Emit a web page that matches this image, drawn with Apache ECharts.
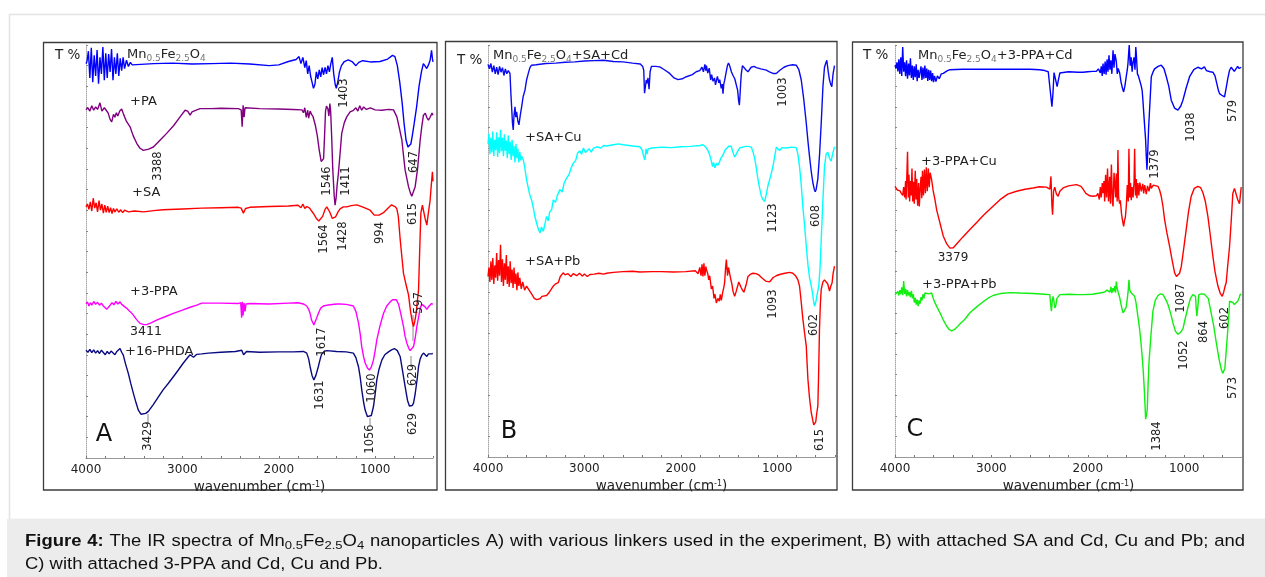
<!DOCTYPE html>
<html>
<head>
<meta charset="utf-8">
<script src="https://cdn.jsdelivr.net/npm/echarts@6/dist/echarts.min.js"></script>
<style>
html, body { margin: 0; padding: 0; background: #fff; }
#chart { width: 1265px; height: 577px; }
</style>
</head>
<body>
<div id="chart"></div>
<script>
// IR spectra, [wavenumber cm-1, T% (offset per curve)]
const A_MnFe = [[4000,95.5],[3990,96],[3975,98.5],[3960,92],[3945,99.3],[3930,91],[3915,97.5],[3900,92.5],[3885,98.8],[3870,90.6],[3855,97],[3840,93],[3825,99.5],[3810,91.5],[3795,98],[3780,92],[3765,97.8],[3750,93.5],[3735,99],[3720,91.5],[3705,97],[3690,93],[3675,98],[3660,92.5],[3645,96.8],[3630,93.8],[3615,97],[3600,94.3],[3580,96.3],[3560,94.8],[3540,95.8],[3520,95.2],[3500,95.6],[3300,95.5],[3100,95.6],[2900,95.4],[2700,95.5],[2500,95.6],[2300,95.4],[2100,95.0],[2000,95.2],[1900,96],[1820,96.5],[1790,97.2],[1770,95.5],[1750,97],[1730,94.5],[1715,96.2],[1700,93],[1685,95],[1670,92.5],[1655,91],[1640,89.5],[1625,90.5],[1610,93.5],[1595,91.8],[1580,94],[1565,92.3],[1550,94.5],[1535,92.8],[1520,94.6],[1505,93],[1490,95],[1475,93.5],[1460,95.5],[1445,97],[1430,93],[1415,90.5],[1403,89.5],[1390,90.8],[1370,93.5],[1350,95],[1320,96],[1280,96.4],[1240,96],[1200,95],[1185,94.7],[1170,95.8],[1130,96.2],[1050,95.9],[950,96],[870,96.6],[820,97.5],[795,97.2],[770,95],[745,91],[720,86],[700,81],[680,77],[660,75.3],[647,75],[630,76],[615,78],[595,81],[570,85],[545,90],[520,93.5],[500,95.5],[485,95],[465,94.3],[445,95.3],[430,96.3],[415,98.7],[405,96.5],[400,95.9]];
const A_PA = [[4000,84.3],[3980,84.8],[3960,84],[3940,85.3],[3920,84.2],[3900,85],[3880,84.4],[3855,86],[3835,84],[3810,84.8],[3790,84.2],[3770,83.5],[3750,82],[3733,81.4],[3715,83.2],[3700,82.5],[3685,83.6],[3670,82.8],[3650,84],[3630,84.5],[3610,83.2],[3580,81.5],[3543,80.2],[3510,78],[3474,76.2],[3440,75],[3405,74.5],[3350,74.8],[3301,75.3],[3230,77],[3163,78.6],[3090,80.5],[3024,82.6],[2972,84.2],[2945,84],[2920,83],[2900,83.8],[2886,83.6],[2850,84.3],[2816,84.6],[2700,84.6],[2600,84.7],[2420,84.6],[2390,84.3],[2380,80.2],[2370,85.4],[2360,82.5],[2350,84.8],[2330,84.5],[2200,84.6],[2000,84.5],[1850,84.4],[1760,84.3],[1744,83.6],[1730,84.8],[1715,82.5],[1700,84.2],[1690,82.3],[1675,84],[1660,83.2],[1645,82.7],[1620,80.5],[1600,78],[1580,74.5],[1560,71.8],[1546,71.4],[1535,72.5],[1525,78],[1515,84],[1505,85.2],[1490,84.5],[1480,82.8],[1470,85.8],[1462,84],[1450,77],[1440,70],[1425,63.5],[1416,61.2],[1405,63],[1395,66],[1381,69],[1365,73.5],[1347,78.6],[1320,81.2],[1295,82.6],[1260,83.8],[1226,84.2],[1200,84.8],[1180,84],[1160,85.3],[1140,84.2],[1120,85],[1090,84.4],[1050,84.8],[1000,84.3],[930,84.2],[860,84.4],[810,84.3],[775,82.6],[750,80],[723,77],[705,73],[689,69.7],[670,67.5],[654,65.7],[635,64.2],[620,63.4],[605,63.8],[585,65.7],[560,70],[533,77],[515,80.5],[499,83],[480,83.5],[465,82.5],[447,81.8],[430,82.5],[410,83.5],[400,83]];
const A_SA = [[4000,60.8],[3985,61.5],[3970,60.2],[3955,62],[3940,59.8],[3925,62.9],[3910,60.5],[3895,61.8],[3880,59.6],[3865,62.3],[3850,60],[3835,61.5],[3820,59.3],[3805,61.2],[3790,59.5],[3775,61],[3760,59.4],[3745,60.6],[3730,59.2],[3715,60.4],[3700,59.6],[3680,60.3],[3660,59.5],[3640,60.1],[3620,59.4],[3600,60],[3560,59.6],[3500,59.8],[3400,59.6],[3300,59.9],[3200,60.1],[3000,60.3],[2800,60.5],[2600,60.6],[2420,60.7],[2390,60.5],[2367,59.3],[2345,60.4],[2300,60.7],[2100,60.9],[1900,61],[1800,61.2],[1770,60.6],[1750,61.5],[1730,60.4],[1710,60.9],[1680,60.5],[1660,59.8],[1640,59.2],[1610,58],[1585,57.4],[1570,57.2],[1545,58.5],[1520,60.2],[1502,60.8],[1470,59.5],[1445,58],[1428,57.6],[1410,58.4],[1385,59.6],[1364,60.3],[1330,60.8],[1295,60.8],[1250,61.1],[1190,61.3],[1120,60.7],[1052,60],[1010,58.8],[994,58.4],[960,58.8],[914,59.4],[870,60.4],[830,61.3],[810,61.5],[790,60.8],[775,60.3],[760,58.5],[740,52.8],[720,48],[706,44.7],[680,42],[654,39.5],[630,35],[615,33],[602,31.8],[588,33.2],[575,35],[560,38.5],[550,40.7],[540,48.7],[526,59.3],[510,61.2],[499,60.8],[482,58],[464,56.4],[450,59],[430,62.4],[418,66],[406,69.3],[400,67]];
const A_3PPA = [[4000,37.3],[3985,37.8],[3970,36.8],[3955,37.6],[3940,37],[3920,37.9],[3900,37.2],[3880,37.7],[3860,37],[3840,37.5],[3820,36.8],[3800,36.4],[3785,36],[3768,36],[3750,37],[3730,37.6],[3710,37.1],[3690,37.9],[3670,37.3],[3647,37.8],[3630,37.2],[3613,37.1],[3580,36.3],[3545,35.5],[3509,34.6],[3475,33.5],[3440,32.6],[3400,32.3],[3370,32.3],[3320,32.8],[3267,33.4],[3180,34.2],[3094,35],[3000,35.8],[2920,36.5],[2850,37],[2800,37.5],[2600,37.5],[2420,37.4],[2395,37.6],[2385,34],[2378,37.8],[2370,34.5],[2360,37.5],[2350,35.5],[2340,37.3],[2300,37.4],[2100,37.3],[1900,37.5],[1800,37.6],[1744,37.3],[1725,37.6],[1710,36.8],[1690,36],[1675,35],[1660,33.4],[1645,32.7],[1636,32.2],[1620,32.6],[1605,34],[1590,35],[1565,36.3],[1537,36.8],[1500,37],[1468,37.1],[1400,37.3],[1364,37.3],[1300,37.2],[1226,36.8],[1200,35.5],[1173,32.7],[1155,30],[1139,26.9],[1120,24.5],[1104,23],[1080,21.8],[1060,21.3],[1040,22],[1018,23.7],[1000,26],[983,28.6],[950,32],[914,35],[880,36.8],[844,37.8],[820,38.3],[800,38.6],[780,38.3],[758,37.3],[735,35],[706,31.8],[690,29.5],[671,27.8],[650,26.5],[637,26],[620,26.2],[602,27],[585,29],[568,31.8],[550,34],[533,36.3],[515,37.2],[499,37.2],[482,36.6],[464,36],[447,36.6],[430,37],[415,37.4],[402,37.2]];
const A_16PHDA = [[4000,26.1],[3980,25.6],[3960,26.3],[3940,25.5],[3920,26.2],[3900,25.4],[3880,26],[3860,25.3],[3840,26.1],[3820,25.7],[3800,25],[3780,25.8],[3760,25.2],[3740,25.9],[3720,25.5],[3700,25],[3680,25.8],[3660,26.2],[3647,26.5],[3630,25.6],[3613,24.9],[3590,22.8],[3561,20.5],[3535,18],[3509,15.7],[3480,13.3],[3457,11.6],[3430,10.6],[3413,10.4],[3380,10.8],[3353,11.3],[3300,13],[3249,14.8],[3200,16.5],[3145,18.1],[3090,19.8],[3042,21.3],[2990,23],[2938,24.5],[2920,25],[2903,25.3],[2885,24.4],[2868,24.2],[2850,25.1],[2834,24.8],[2800,25.2],[2730,25.4],[2600,25.6],[2450,25.8],[2384,26.1],[2365,25],[2350,24.6],[2335,25.8],[2315,25.7],[2200,25.6],[2000,25.7],[1850,25.7],[1744,25.8],[1710,25.4],[1690,24],[1675,22.1],[1655,20],[1636,18.9],[1615,20],[1590,22.1],[1570,24],[1556,25.1],[1530,25.8],[1502,26],[1400,25.8],[1300,25.7],[1226,25.4],[1200,24.3],[1173,22.1],[1155,19.5],[1139,16.5],[1120,13.5],[1104,11.6],[1080,10],[1060,9.6],[1040,10.3],[1018,12.4],[1000,15.5],[983,18.9],[960,21.5],[931,23.7],[900,25],[862,25.7],[830,26.2],[800,26.5],[770,26],[740,24.5],[715,21],[689,17.3],[665,14],[645,12.6],[630,12.3],[615,12.7],[602,13.3],[585,15.5],[565,19],[550,22.1],[533,24],[516,24.9],[499,25.4],[482,25.2],[464,24.6],[447,25.2],[430,25.6],[415,25.2],[402,25.3]];

const B_Cd = [[4000,95.3],[3985,94.2],[3970,95.5],[3955,93.4],[3940,95],[3925,93],[3910,94.6],[3895,92.8],[3880,94.8],[3865,93.4],[3850,94.5],[3835,92.6],[3820,94.2],[3805,93],[3790,93.8],[3772,93.1],[3762,88],[3755,85],[3746,81],[3738,79.4],[3730,83],[3720,85],[3712,82.5],[3703,83.8],[3690,81.5],[3679,80.6],[3665,83],[3651,85],[3635,87.5],[3617,89],[3600,91.5],[3582,93.1],[3565,94.5],[3548,95.1],[3500,95.2],[3400,95.5],[3300,95.6],[3200,95.8],[3100,95.9],[3000,96.1],[2900,96.2],[2800,96.3],[2700,96],[2600,95.9],[2500,95.6],[2420,95.4],[2395,94.8],[2384,93.8],[2376,88.3],[2367,88.3],[2358,91.5],[2350,90.7],[2340,92],[2329,89.3],[2318,93.5],[2305,94.8],[2260,94.8],[2218,94.7],[2170,94],[2115,93.1],[2070,92],[2028,91.6],[1985,91.8],[1942,92.3],[1880,92.8],[1840,93.5],[1803,93.8],[1780,94.6],[1765,93.5],[1750,95.3],[1740,93.8],[1734,95],[1720,93.2],[1705,94.4],[1690,91.5],[1680,92.8],[1665,91.2],[1650,92],[1640,90.3],[1631,90.7],[1620,92.4],[1605,90.8],[1596,91.6],[1580,89.5],[1570,90.5],[1562,88.2],[1554,90.5],[1545,91.4],[1530,93.3],[1515,95.1],[1505,95.6],[1493,95],[1475,93.5],[1458,92.6],[1440,91.8],[1424,91.4],[1410,89],[1400,86.5],[1392,85.4],[1385,88],[1378,91],[1372,93],[1360,95],[1348,95.1],[1325,94],[1303,93.5],[1270,94.6],[1240,94.8],[1216,94.5],[1170,94.2],[1113,93.9],[1080,93.5],[1044,93.1],[1010,93.1],[975,93.8],[930,94.6],[889,95],[840,95.2],[802,95.1],[775,94],[750,91.5],[725,87],[698,81],[680,76.5],[664,72.9],[645,69],[629,66.5],[615,65],[605,64.4],[595,65],[578,67.5],[560,73.5],[543,81],[525,90],[509,94.6],[497,95.5],[485,96.3],[470,93.5],[457,91.5],[445,90.5],[433,89.9],[420,93],[405,95]];
const B_Cu = [[4000,76],[3990,78.5],[3980,73.5],[3970,77.5],[3960,74],[3950,79],[3940,73],[3930,77],[3920,74.5],[3910,78.8],[3900,72.8],[3890,77.6],[3880,73.8],[3870,79.4],[3860,74.2],[3850,77.5],[3840,73],[3830,78.3],[3820,74.3],[3810,76.8],[3800,72.5],[3790,78],[3780,73.5],[3770,76.5],[3760,72.1],[3750,77],[3740,73],[3730,75.5],[3720,71.5],[3710,76],[3700,72.5],[3690,74.8],[3680,71.5],[3670,74],[3660,72],[3650,73],[3634,72.1],[3620,70.5],[3600,67.3],[3580,65],[3565,63.5],[3548,62.4],[3530,60.5],[3515,58.5],[3496,56.8],[3480,55.5],[3461,54.4],[3445,55.8],[3427,54.8],[3410,56.5],[3392,58.4],[3375,57.3],[3360,59.5],[3340,60],[3323,62.4],[3300,61.8],[3280,63.5],[3254,64.9],[3230,64.3],[3210,66.5],[3185,67.7],[3160,68.5],[3140,70],[3116,71.3],[3090,72],[3070,73.8],[3047,74.3],[3030,73.5],[3010,75],[2990,73.9],[2978,74.1],[2950,74.8],[2930,74],[2908,74.9],[2870,75.3],[2830,75],[2800,75.6],[2770,75.5],[2700,75.8],[2650,76],[2597,75.8],[2500,75.5],[2425,75.3],[2400,74.5],[2385,73],[2373,72.1],[2360,74.8],[2350,73.5],[2339,74.8],[2300,75],[2200,75.2],[2100,75.1],[2000,75.3],[1900,75.4],[1800,75.6],[1769,75.8],[1740,75.2],[1720,74.5],[1700,73.3],[1685,72],[1670,70.5],[1660,71.5],[1645,70.2],[1630,71.3],[1614,70.8],[1600,71.5],[1585,72.5],[1562,73.3],[1540,74.5],[1520,75],[1500,75.5],[1476,75.4],[1460,74],[1441,72.8],[1425,73.5],[1407,74.3],[1390,75],[1372,75.3],[1330,75.4],[1300,75.4],[1268,75.2],[1250,74],[1234,72.6],[1215,70],[1199,67.3],[1180,65],[1164,63.3],[1147,62.5],[1130,62],[1115,63.5],[1095,65.9],[1070,68],[1044,70.5],[1025,73],[1009,75.2],[990,74.8],[975,74.4],[950,75.1],[906,75],[850,75.2],[802,75.1],[785,73.5],[768,70.5],[750,66],[733,60.6],[715,56],[698,51.1],[680,46.5],[664,43.5],[650,42],[635,40],[620,37.5],[612,36.6],[600,37.5],[585,39.5],[568,41.5],[555,46],[543,52.8],[526,62],[509,70.5],[492,73.5],[475,74],[457,72.5],[440,71.8],[425,73.5],[405,75.3]];
const B_Pb = [[4000,43.8],[3990,46],[3980,42.5],[3970,47.5],[3960,43],[3950,48.3],[3940,42],[3930,46.5],[3920,43.5],[3910,49.5],[3900,42.8],[3890,47.8],[3880,44],[3870,51.5],[3860,42.5],[3850,48],[3840,41.5],[3830,47],[3820,43],[3810,49],[3800,42],[3790,46.3],[3780,41.3],[3770,47.5],[3760,42.2],[3750,45.5],[3740,41],[3730,46],[3720,42],[3710,44.5],[3700,40.5],[3690,44.8],[3680,41.5],[3670,43.5],[3655,40.8],[3640,42.5],[3620,40.5],[3600,41.5],[3582,41.5],[3560,40],[3540,39.3],[3520,38.5],[3496,38.2],[3480,38.5],[3461,38.4],[3440,39],[3420,38.6],[3392,39.2],[3370,39.8],[3350,40.5],[3323,41.5],[3300,42],[3271,42.3],[3250,43.8],[3220,44.7],[3200,44.2],[3170,44.5],[3140,43.8],[3116,44.5],[3080,44],[3050,44.6],[3020,43.9],[3000,44.4],[2970,43.8],[2943,44.3],[2900,44.4],[2850,44.6],[2800,44.4],[2770,44.6],[2700,44.8],[2600,45],[2500,45.1],[2425,44.9],[2300,45],[2200,45],[2080,44.9],[1950,45],[1850,45.2],[1820,44.5],[1803,46],[1790,44],[1780,46.8],[1770,43.8],[1760,47],[1750,44],[1740,46.2],[1734,45.5],[1720,44.5],[1710,43],[1700,44],[1683,40.8],[1670,41.5],[1655,38.5],[1645,39.5],[1631,37.4],[1615,38.5],[1600,37.8],[1590,39.5],[1579,38],[1565,40],[1555,41],[1545,42.3],[1535,46],[1527,47.9],[1515,44],[1505,46],[1493,44.5],[1480,43],[1470,42],[1458,40.2],[1441,39],[1425,40.2],[1410,41.5],[1398,42.5],[1389,42.6],[1375,41.2],[1360,40.5],[1345,40],[1337,40],[1320,42],[1303,43.8],[1280,44.3],[1251,44.6],[1220,44.5],[1190,44.2],[1160,43.5],[1147,43.2],[1120,42.7],[1100,42.3],[1080,42.5],[1060,43],[1044,43.5],[1010,44],[975,44.3],[920,44.6],[870,44.8],[837,44.6],[810,44],[785,43],[768,41.5],[750,37.5],[733,33.4],[715,30],[698,26.9],[690,23],[681,18.9],[665,14.5],[647,10.9],[630,8.8],[620,7.8],[612,7.6],[600,8.5],[590,10.5],[578,12.4],[570,20],[561,31],[552,37],[543,40.7],[525,42.5],[509,43],[491,43],[475,42],[457,40.3],[443,41.5],[430,42.3],[420,44.5],[405,46.3]];

const C_Cd = [[4000,95.1],[3990,94.3],[3980,95.8],[3970,93.6],[3960,96.5],[3950,93],[3940,97],[3930,92.5],[3920,99.5],[3910,93.5],[3900,95.8],[3890,92.4],[3880,96.3],[3870,91.8],[3860,95.5],[3850,92.6],[3840,96.8],[3830,92],[3820,95],[3810,91.5],[3800,94.8],[3790,92.2],[3780,95.3],[3770,91.2],[3760,94],[3750,92],[3740,92.3],[3730,94.8],[3720,91.5],[3710,94.5],[3700,91.8],[3690,95],[3680,92],[3670,94.3],[3660,91.3],[3650,94],[3640,91.5],[3630,93.8],[3620,91.2],[3610,93.2],[3600,91],[3590,92.5],[3575,91.1],[3560,92.5],[3540,91.8],[3520,93],[3499,93.1],[3460,93.7],[3430,94],[3300,94.1],[3200,94.1],[3085,94.1],[2900,94.1],[2740,94.1],[2600,94.1],[2500,94],[2446,93.8],[2410,93.5],[2394,93.1],[2372,85],[2362,88],[2350,93.3],[2343,93.5],[2328,91],[2318,89.9],[2305,91.5],[2290,93.2],[2274,93.4],[2200,93.5],[2100,93.4],[2049,93.4],[2000,93.5],[1950,93.6],[1911,93.6],[1890,94.2],[1870,93.2],[1860,94.8],[1850,92.5],[1842,95.5],[1830,93],[1820,96],[1810,92.8],[1800,96.5],[1790,93.5],[1780,97.5],[1770,94],[1760,96.3],[1750,93],[1738,98.7],[1728,94.5],[1718,97.8],[1704,96],[1694,93],[1685,94.3],[1669,93.2],[1655,91],[1640,89.5],[1628,88.6],[1615,90],[1600,92.5],[1590,94],[1583,95.5],[1576,98],[1570,100],[1560,95],[1550,97],[1540,93.5],[1531,95.8],[1520,97],[1510,94],[1502,99.5],[1497,98],[1485,93],[1475,92.5],[1462,92.3],[1448,90.3],[1436,89],[1428,86.6],[1415,82],[1400,77],[1393,73],[1386,69.7],[1378,74],[1369,79.8],[1355,86],[1341,92.3],[1320,93.6],[1307,94.2],[1270,94.8],[1238,95.1],[1210,94.3],[1185,92.3],[1160,90],[1134,86.6],[1100,84.7],[1065,84.2],[1035,85.2],[1013,86.6],[980,89.5],[944,92.3],[900,94],[858,94.6],[840,94.5],[820,94.2],[806,94.3],[790,94.7],[770,93.8],[754,93.9],[730,93.5],[702,93.4],[680,92.5],[660,90.5],[645,89],[633,88.2],[610,87.8],[595,87.5],[581,87.4],[565,89.5],[547,91.9],[530,93.8],[512,94.6],[495,94.2],[480,93.6],[461,93.8],[445,94.8],[430,94.3],[408,94.6]];
const C_Cu = [[4000,65.7],[3990,65.3],[3975,64.8],[3960,64.5],[3948,64.6],[3935,64],[3920,63.5],[3910,65.5],[3900,63],[3896,62.7],[3890,67],[3885,62.5],[3880,66],[3870,74.1],[3862,63],[3855,68.5],[3848,62],[3840,67],[3832,63.5],[3824,70],[3816,62],[3808,66.8],[3800,61.5],[3790,69.5],[3782,62.5],[3775,67.5],[3765,61],[3755,66.5],[3748,60.8],[3740,64.5],[3730,68],[3722,62.8],[3715,69.5],[3705,63.5],[3695,69.8],[3685,64],[3675,70.3],[3665,64.5],[3654,70],[3645,65.5],[3635,69],[3620,67.3],[3603,64.5],[3585,62.4],[3568,60],[3551,58.4],[3525,56],[3499,53.6],[3465,51.8],[3430,50.7],[3395,50.8],[3361,51.7],[3300,53.3],[3223,55.2],[3150,57],[3085,58.6],[3000,60.5],[2913,62.4],[2830,63.8],[2740,64.5],[2650,65],[2567,65.3],[2500,65.6],[2429,65.5],[2394,65],[2382,68.1],[2372,61],[2365,58.8],[2355,64.5],[2343,65.5],[2325,63.8],[2308,63.3],[2290,64.5],[2256,65.3],[2200,65.8],[2118,66.1],[2070,65.7],[2049,65],[2020,64],[1980,63.4],[1945,63.3],[1911,63.4],[1895,64],[1880,62.5],[1870,65.5],[1860,63],[1850,66.5],[1842,64],[1832,67],[1825,62],[1815,68.5],[1805,63],[1795,70],[1785,62],[1773,68],[1765,61.5],[1755,71],[1745,62],[1738,60.8],[1728,69],[1720,66.5],[1712,63],[1704,68.8],[1695,62],[1687,74.5],[1680,63],[1670,61.5],[1662,62.3],[1650,59],[1640,57.5],[1628,56],[1618,57.5],[1610,58.2],[1600,61],[1590,66],[1580,62],[1573,74.8],[1565,63],[1556,66.5],[1549,62.3],[1540,65.5],[1530,63],[1520,66.8],[1514,74.8],[1505,63.5],[1497,67.5],[1490,62.8],[1480,66.5],[1470,63.5],[1460,66.6],[1445,64.5],[1430,66.3],[1420,64],[1410,66],[1393,63.8],[1380,65.8],[1365,64.5],[1350,66.5],[1341,65.2],[1320,66],[1300,65.6],[1272,65.7],[1255,64.8],[1238,63.3],[1220,60.8],[1203,57.6],[1180,54.5],[1151,51.1],[1125,47.8],[1099,44.7],[1080,43.8],[1065,43.5],[1048,44.6],[1030,46.2],[1005,50.5],[979,55.2],[955,59.5],[927,63.3],[895,65.2],[858,65.7],[830,65.4],[806,64.2],[780,62],[754,58.4],[730,54],[702,48.7],[680,45],[650,41.5],[625,39.7],[605,39],[590,40],[575,41.5],[564,42.3],[550,46],[529,51.1],[510,58],[495,64],[478,65.2],[461,65.3],[445,62.5],[426,61.5],[415,64],[408,65.5]];
const C_Pb = [[4000,39.4],[3990,39.8],[3980,39],[3970,40.2],[3960,39.2],[3950,40.5],[3940,39.5],[3930,41.2],[3920,39.3],[3910,42.7],[3900,39.6],[3890,40.8],[3880,39],[3870,40.5],[3860,39.2],[3850,40],[3840,38.8],[3830,40.3],[3820,38.5],[3810,39.5],[3800,37.5],[3790,38.6],[3780,37],[3770,38.2],[3760,36.6],[3750,38],[3740,37.2],[3730,38.8],[3720,38],[3710,39.5],[3700,38.5],[3690,39.8],[3672,39.4],[3650,39.6],[3636,40],[3620,39.8],[3603,38.5],[3585,37.4],[3560,36.2],[3534,35],[3500,33.3],[3465,31.8],[3440,31],[3413,30.6],[3380,31],[3350,31.7],[3327,32.3],[3280,33.3],[3223,35],[3150,36.5],[3085,37.7],[3030,38.6],[2982,39.2],[2900,39.7],[2809,39.9],[2700,39.8],[2567,39.7],[2450,39.5],[2394,39.4],[2385,37],[2377,35.4],[2368,38],[2360,39],[2353,38.1],[2342,36.2],[2332,36.7],[2320,38.5],[2291,39.4],[2200,39.5],[2100,39.4],[2049,39.4],[1950,39.5],[1877,39.8],[1830,40],[1800,40.5],[1780,40.8],[1770,40],[1760,41.3],[1750,39.8],[1739,41],[1730,40.2],[1720,41.5],[1712,39.9],[1704,42.6],[1695,41],[1685,40],[1669,38.7],[1650,36.5],[1635,35],[1620,35.5],[1600,36.5],[1590,38.5],[1582,40],[1573,43],[1565,40.5],[1549,39.8],[1530,39.5],[1514,39],[1500,37.5],[1485,35],[1462,31],[1445,27],[1428,22.1],[1415,17],[1405,12],[1400,9.2],[1393,10],[1383,11.5],[1375,17],[1365,22.9],[1345,29.5],[1324,35.4],[1300,38],[1272,39.2],[1245,39.6],[1220,39.4],[1190,38.2],[1168,37],[1140,34.8],[1117,32.6],[1090,30.5],[1065,29.8],[1040,30.2],[1013,31.1],[990,33.5],[961,36.3],[935,38.5],[910,39.4],[890,39.3],[882,39],[875,36],[868,34.2],[860,36],[847,39.4],[820,39.6],[790,39.5],[772,39.4],[750,38.5],[720,35],[695,32],[667,27.8],[640,24],[615,21.3],[600,20.3],[591,20.1],[578,21.5],[564,25.7],[547,31],[535,35],[529,37.8],[512,38.2],[495,37.5],[478,37],[461,36.6],[445,37.8],[430,38.6],[418,39.5],[408,39.4]];

const xTickLabels = [4000, 3000, 2000, 1000];

// curve names drawn inside each panel
const nameA = ['Mn{s|0.5}Fe{s|2.5}O{s|4}', '+PA', '+SA', '+3-PPA', '+16-PHDA'];
const nameB = ['Mn{s|0.5}Fe{s|2.5}O{s|4}+SA+Cd', '+SA+Cu', '+SA+Pb'];
const nameC = ['Mn{s|0.5}Fe{s|2.5}O{s|4}+3-PPA+Cd', '+3-PPA+Cu', '+3-PPA+Pb'];

// peak wavenumbers written next to the bands
const peaksA = ['1403', '3388', '1546', '1411', '647', '615', '1564', '1428', '994', '1617', '597', '629', '1060', '1631', '3429', '1056', '629'];
const peaksB = ['1003', '1123', '608', '1093', '602', '615'];
const peaksC = ['1379', '1038', '579', '1087', '602', '864', '1052', '573', '1384'];

const caption1 = '{b|Figure} {b|4:} The IR spectra of Mn{s|0.5}Fe{s|2.5}O{s|4} nanoparticles A) with various linkers used in the experiment, B) with attached SA and Cd, Cu and Pb; and';
const caption2 = 'C) with attached 3-PPA and Cd, Cu and Pb.';

const chart = echarts.init(document.getElementById('chart'));

// layout
const panels = [
  { grid: { left: 86, top: 45, width: 347, height: 413 }, box: [43.5, 42.5, 393.5, 447.5], letter: ['A', 104, 435], tp: [55, 55],
    curves: [[A_MnFe, '#0000ff'], [A_PA, '#800080'], [A_SA, '#ff0000'], [A_3PPA, '#ff00ff'], [A_16PHDA, '#0a0a80']],
    names: nameA, namePos: [[127, 55], [130, 102], [132, 193], [130, 292], [125, 352]],
    peaks: peaksA, peakPos: [[344, 93], [158, 166], [327, 181], [346, 181], [414, 162], [413, 214], [324, 239], [343, 236], [380, 233], [322, 342], [419, 303], [413, 375], [372, 388], [320, 395], [148, 436], [370, 439], [413, 424]] },
  { grid: { left: 488, top: 45, width: 347, height: 412 }, box: [445.5, 41.5, 391.5, 448.5], letter: ['B', 509, 432], tp: [457, 60],
    curves: [[B_Cd, '#0a0af0'], [B_Cu, '#00ffff'], [B_Pb, '#ff0000']],
    names: nameB, namePos: [[493, 56], [525, 138], [525, 262]],
    peaks: peaksB, peakPos: [[783, 92], [773, 218], [816, 216], [773, 304], [814, 325], [820, 440]] },
  { grid: { left: 895, top: 45, width: 347, height: 412 }, box: [852.5, 42, 390.5, 448], letter: ['C', 915, 430], tp: [863, 55],
    curves: [[C_Cd, '#0000ff'], [C_Cu, '#ff0000'], [C_Pb, '#11ee11']],
    names: nameC, namePos: [[918, 56], [921, 162], [922, 285]],
    peaks: peaksC, peakPos: [[1155, 164], [1191, 127], [1233, 111], [1181, 298], [1225, 318], [1204, 332], [1184, 355], [1233, 388], [1157, 436]] }
];

const font = 'DejaVu Sans';
const capFont = 'Liberation Sans';
const capSize = 16.3, capSub = 11.5, capScale = 1.134;
const capRich = {
  b: { fontWeight: 'bold', fontSize: capSize, fontFamily: capFont, lineHeight: 20 },
  s: { fontSize: capSub, fontFamily: capFont, verticalAlign: 'bottom', lineHeight: 11 }
};

const graphic = [
  { type: 'rect', shape: { x: 9.5, y: 14.5, width: 1265, height: 505 }, style: { fill: '#fff', stroke: '#e3e3e3', lineWidth: 1.5 }, z: -10 },
  { type: 'rect', shape: { x: 7, y: 519, width: 1258, height: 58 }, style: { fill: '#ececec' }, z: -10 },
  { type: 'text', x: 25, y: 565, scaleX: capScale, style: { text: caption2, fontFamily: capFont, fontSize: capSize, fill: '#111', verticalAlign: 'middle' } }
];

// caption first line is justified: measure words and spread the gaps
const ctx = document.createElement('canvas').getContext('2d');
function wordWidth(w) {
  let width = 0;
  w.replace(/\{(\w)\|([^}]*)\}|([^{]+)/g, (m, tag, inner, plain) => {
    if (tag === 'b') ctx.font = 'bold ' + capSize + 'px "' + capFont + '"';
    else if (tag === 's') ctx.font = capSub + 'px "' + capFont + '"';
    else ctx.font = capSize + 'px "' + capFont + '"';
    width += ctx.measureText(tag ? inner : plain).width;
    return m;
  });
  return width * capScale;
}
const words = caption1.split(' ');
const widths = words.map(wordWidth);
const lineW = 1220;
const gap = (lineW - widths.reduce((a, b) => a + b, 0)) / (words.length - 1);
let cx = 25;
words.forEach((w, k) => {
  graphic.push({ type: 'text', x: cx, y: 541.5, scaleX: capScale,
    style: { text: w, fontFamily: capFont, fontSize: capSize, fill: '#111', lineHeight: 20, verticalAlign: 'middle', rich: capRich } });
  cx += widths[k] + gap;
});

// grey leader lines from bands to labels
const leaders = [[148, 414, 424], [370, 418, 425], [411, 356, 367], [413, 315, 341]];
leaders.forEach(l => graphic.push({ type: 'line', shape: { x1: l[0], y1: l[1], x2: l[0], y2: l[2] }, style: { stroke: '#888', lineWidth: 1 } }));

const grid = [], xAxis = [], yAxis = [], series = [];
panels.forEach((p, i) => {
  grid.push(p.grid);
  xAxis.push({
    gridIndex: i, type: 'value', inverse: true, min: 400, max: 4000, interval: 200,
    axisLine: { lineStyle: { color: '#999', width: 1 } },
    axisTick: { inside: true, length: 2, lineStyle: { color: '#777' } },
    axisLabel: { formatter: v => xTickLabels.includes(v) ? String(v) : '', color: '#222', fontFamily: font, fontSize: 12, margin: 6, showMaxLabel: true, showMinLabel: true },
    splitLine: { show: false },
    name: 'wavenumber (cm{sup|-1})', nameLocation: 'middle', nameGap: 19,
    nameTextStyle: { color: '#222', fontFamily: font, fontSize: 13.5, rich: { sup: { fontSize: 8, fontFamily: font, verticalAlign: 'top', lineHeight: 8 } } }
  });
  yAxis.push({
    gridIndex: i, type: 'value', min: 0, max: 100, interval: 5,
    axisLine: { show: true, lineStyle: { color: '#aaa', type: 'dotted' } },
    axisTick: { show: true, inside: true, length: 2, lineStyle: { color: '#888' } },
    axisLabel: { show: false }, splitLine: { show: false }
  });
  p.curves.forEach(c => series.push({
    type: 'line', xAxisIndex: i, yAxisIndex: i, data: c[0], showSymbol: false, symbol: 'none',
    lineStyle: { color: c[1], width: 1.4 }, itemStyle: { color: c[1] }, silent: true
  }));
  graphic.push({ type: 'rect', shape: { x: p.box[0], y: p.box[1], width: p.box[2], height: p.box[3] }, style: { fill: 'none', stroke: '#3c3c3c', lineWidth: 1.3 } });
  graphic.push({ type: 'text', x: p.tp[0], y: p.tp[1], style: { text: 'T %', fontFamily: font, fontSize: 13.5, fill: '#222', verticalAlign: 'middle' } });
  graphic.push({ type: 'text', x: p.letter[1], y: p.letter[2], style: { text: p.letter[0], fontFamily: font, fontSize: 24, fill: '#111', align: 'center', verticalAlign: 'middle' } });
  p.names.forEach((n, k) => graphic.push({ type: 'text', x: p.namePos[k][0], y: p.namePos[k][1], z: 10,
    style: { text: n, fontFamily: font, fontSize: 13, fill: '#222', verticalAlign: 'middle', lineHeight: 16,
      rich: { s: { fontSize: 9, fontFamily: font, fill: '#777', verticalAlign: 'bottom', lineHeight: 9 } } } }));
  p.peaks.forEach((t, k) => graphic.push({ type: 'text', x: p.peakPos[k][0], y: p.peakPos[k][1], rotation: Math.PI / 2, z: 10,
    style: { text: t, fontFamily: font, fontSize: 11.5, fill: '#222', align: 'center', verticalAlign: 'middle' } }));
});
// horizontal peak labels
graphic.push({ type: 'text', x: 146, y: 332, style: { text: '3411', fontFamily: font, fontSize: 12.5, fill: '#222', align: 'center', verticalAlign: 'middle' } });
graphic.push({ type: 'text', x: 953, y: 258, style: { text: '3379', fontFamily: font, fontSize: 12, fill: '#222', align: 'center', verticalAlign: 'middle' } });

chart.setOption({
  backgroundColor: '#fff',
  animation: false,
  grid, xAxis, yAxis, series, graphic
});
</script>
</body>
</html>
